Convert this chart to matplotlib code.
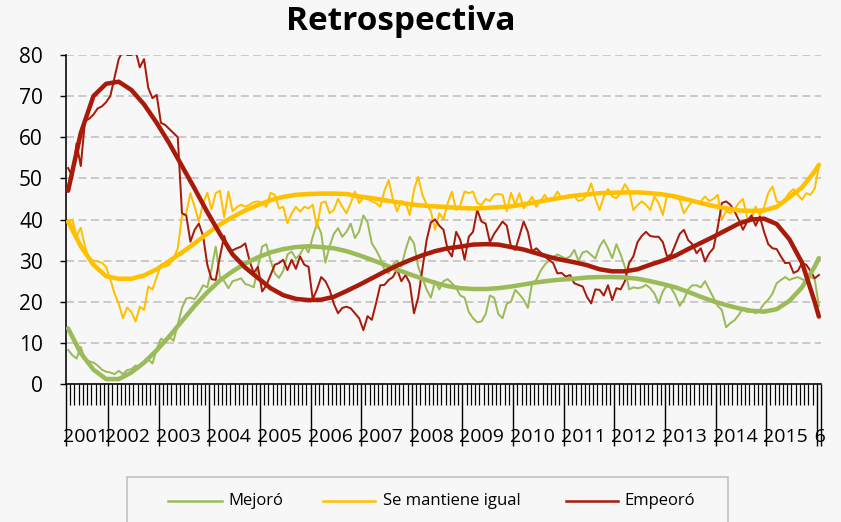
"""Retrospectiva: monthly survey series with smoothed trend lines."""

import numpy as np
import matplotlib
matplotlib.use('Agg')
import matplotlib.pyplot as plt
from matplotlib.patches import Rectangle
from matplotlib.lines import Line2D
from matplotlib.transforms import Bbox, offset_copy

plt.rcParams['font.family'] = ['Open Sans', 'DejaVu Sans']

W, H, DPI = 841, 522, 100

# ── Data: monthly, March 2001 .. January 2016 ─────────────────────────────────
YEARS = [str(y) for y in range(2001, 2017)]
MONTHS_FIRST_YEAR = 10          # Mar-Dec 2001

MEJORO = [
    8.3, 7, 6.2, 9, 6, 5.5, 5.2, 4.5, 3.5, 3,                          # 2001
    2.8, 2.4, 3.2, 2.4, 3.4, 3.6, 4.5, 4, 5.5, 6, 5, 8.5,              # 2002
    11, 10.5, 11.5, 10.5, 14.5, 18.5, 20.8, 21, 20.6, 22.1, 24, 23.5,  # 2003
    28, 33.4, 26, 25, 23.3, 25, 25.3, 25.7, 24.3, 24, 23.5, 28.5,      # 2004
    33.4, 34, 30, 26.9, 25.8, 27.5, 31.5, 32.2, 30.5, 31.5, 33.5, 32,  # 2005
    35.8, 39, 36.7, 29.5, 33.5, 36.5, 37.9, 35.8, 37, 39, 35.5, 37.1,  # 2006
    41, 39.3, 34.2, 32.6, 30.6, 27.7, 26.9, 29, 30, 28.5, 32.6, 35.8,  # 2007
    34.2, 28.5, 25.7, 23, 21, 25, 23, 25, 25.5, 24.5, 23.3, 21.5,      # 2008
    21, 17.5, 16, 15, 15.2, 17, 21.5, 21, 17, 16, 19.5, 20,            # 2009
    22.9, 21.8, 20.5, 18.5, 24.5, 25.3, 27.5, 29, 30, 30.8, 31.5, 31,  # 2010
    30.5, 31, 32.6, 30, 32, 32.3, 31.4, 30.5, 33.4, 35, 33, 30.6,      # 2011
    34, 31.5, 28.5, 23, 23.5, 23.3, 23.5, 24.1, 23.3, 22, 19.6, 22.5,  # 2012
    24, 23.3, 21.5, 19, 20.5, 23, 24, 24, 23.5, 25, 23, 21,            # 2013
    19, 18, 13.8, 14.8, 15.5, 16.8, 18.5, 17.5, 18, 17.2, 18, 19.5,    # 2014
    20.5, 22, 24.5, 25.3, 26, 25.3, 25.7, 26, 25.5, 25, 26, 25.5,      # 2015
    19,                                                                # 2016
]
IGUAL = [
    39.5, 40, 36, 38, 33.4, 30.5, 30, 29.8, 29.5, 28.5,
    25.5, 22, 19.5, 16, 18.6, 17.5, 15.2, 18.8, 18, 23.7, 23, 26,
    29, 28.5, 29, 30.5, 33, 41, 41.5, 46.4, 43.1, 39.5, 44, 46.5,
    42.5, 46.4, 47, 40.5, 46.8, 42, 43, 43.6, 43.1, 43.6, 44.2, 44.4,
    44, 43.1, 46.5, 46, 42.7, 43.1, 39.1, 41.5, 43.1, 41.9, 43.1, 42.7,
    43.6, 38, 44, 44.4, 41.5, 42.3, 45, 43.1, 41.5, 44, 46.8, 44,
    45.2, 45, 44.4, 44, 43.1, 47, 49.6, 45, 42, 44.5, 44, 41.1,
    47.2, 50.4, 46, 43.6, 42, 37.5, 41.5, 40, 44, 46.8, 42.3, 43.6,
    46.8, 46.4, 46.8, 44, 43.5, 45, 44.5, 46, 46.2, 46, 42, 46.5,
    43.6, 46.4, 42.7, 44, 45.5, 43.1, 44.5, 46, 44.4, 45, 46.8, 45.2,
    45.6, 46, 45.6, 44.5, 44.8, 46, 48.8, 45, 42.3, 45.6, 47.4, 45.6,
    45.2, 46.4, 48.6, 47, 42.3, 43.5, 44.4, 43.6, 42.3, 45.6, 44, 41.1,
    46, 45.6, 45.2, 44.8, 41.5, 43.1, 44.4, 44, 44.4, 45.6, 44.5, 45,
    46, 40, 42, 41.5, 42.5, 44, 45, 40.5, 40, 43.1, 41, 43,
    46.5, 48, 44.4, 44, 45, 46.5, 47.4, 46, 44.8, 46.4, 46, 47.5,
    53,
]
EMPEORO = [
    52.5, 50.5, 58.5, 53, 64, 64.5, 65.5, 67, 67.5, 68.5,
    70, 74.5, 79, 81, 80, 80, 81, 77, 79, 72, 69.5, 70.3,
    63.5, 63, 62, 61, 60, 41.5, 41, 34.6, 37.5, 39, 36, 29,
    25.5, 25.3, 31, 36, 32.5, 32.5, 33, 33.4, 34.2, 30, 27, 28.5,
    22.5, 24, 26.5, 29, 29.4, 30.2, 27.7, 30.2, 28, 31, 29, 28.5,
    20.6, 23, 26, 25, 22.9, 19.5, 17.2, 18.5, 18.8, 18.4, 17.2, 16,
    13.1, 16.5, 15.6, 19.6, 24, 24.1, 25.3, 26, 27.9, 25, 26.5, 24.5,
    17.2, 21, 28, 35, 39.3, 40, 38.5, 37.5, 32.6, 31, 37, 35,
    30.2, 35.8, 37, 42.3, 39.5, 39, 34.5, 36.5, 38, 39.5, 38.5, 33.4,
    32.6, 36, 39.5, 37, 32.2, 33, 32, 31, 30.2, 29.4, 26.9, 27,
    26.1, 26.5, 24.5, 24.1, 23.7, 21.2, 19.6, 23, 22.9, 21.5, 24, 20.4,
    23.3, 23, 25, 29.4, 31, 34.5, 36, 37, 36, 35.8, 35.8, 34.5,
    31, 31.5, 34, 36.5, 37.5, 35, 34, 31.8, 33, 29.8, 31.8, 33,
    38, 44, 44.4, 43.6, 42, 39.9, 37.5, 39.5, 41, 38.5, 40.7, 37,
    34, 33, 32.8, 31, 29.4, 29.5, 27, 27.5, 29.4, 29, 27.5, 25.7,
    26.5,
]

# Smoothed trends, read every third month (plus the last month)
TREND_STEP = 3
MEJORO_TREND = [
    13.5, 7.5, 3.5, 1.2, 1.2, 2.8, 5.2, 8.2, 11.6, 15.3,
    19, 22.3, 25.2, 27.4, 29.3, 30.8, 32, 32.8, 33.3, 33.5,
    33.3, 33, 32.3, 31.3, 30.2, 29, 27.8, 26.7, 25.6, 24.6,
    23.8, 23.3, 23.1, 23.1, 23.3, 23.7, 24.2, 24.7, 25.1, 25.4,
    25.6, 25.9, 26, 26, 25.9, 25.6, 25, 24.3, 23.5, 22.4,
    21.2, 20.1, 19.2, 18.4, 17.8, 17.6, 18.2, 20.2, 23.5, 28.5,
    30.6,
]
IGUAL_TREND = [
    39.5, 33.5, 29, 26.2, 25.6, 25.6, 26.4, 27.9, 29.9, 32,
    34.2, 36.6, 38.8, 40.6, 42.2, 43.5, 44.7, 45.5, 46, 46.2,
    46.3, 46.3, 46.2, 45.6, 45.2, 44.7, 44.2, 43.7, 43.4, 43.2,
    43, 42.8, 42.7, 42.8, 43, 43.2, 43.7, 44.2, 44.8, 45.3,
    45.8, 46.1, 46.4, 46.5, 46.6, 46.6, 46.4, 46.1, 45.6, 44.8,
    44, 43.3, 42.7, 42.2, 42.1, 42.2, 43.1, 45.4, 47.8, 51.7,
    53.3,
]
EMPEORO_TREND = [
    47, 61, 70, 73, 73.5, 71.5, 68, 63.5, 58.5, 53,
    47.5, 41.8, 36.5, 31.5, 28.3, 25.8, 23.3, 21.6, 20.7, 20.4,
    20.5, 21.2, 22.6, 24.1, 25.7, 27.3, 28.8, 30.1, 31.3, 32.3,
    33, 33.4, 33.9, 34, 33.9, 33.3, 32.7, 31.8, 30.9, 30.2,
    29.6, 28.9, 27.9, 27.4, 27.4, 27.9, 29, 30, 31.2, 32.8,
    34.3, 35.8, 37.4, 39, 40, 40.2, 38.9, 35.2, 29.5, 20,
    16.4,
]

LABELS = ['Mejoró', 'Se mantiene igual', 'Empeoró']
COLORS = ['#9BBB59', '#FFC000', '#A81B0B']
BG = '#F7F7F7'
GRID = '#BFBFBF'


def px(v):
    """pixels -> points"""
    return v * 72 / DPI


def main():
    fig = plt.figure(figsize=(W / DPI, H / DPI), dpi=DPI, facecolor=BG)
    ax = fig.add_axes([66 / W, 1 - 384 / H, (821 - 66) / W, (384 - 55) / H],
                      facecolor=BG)

    n = len(MEJORO)
    t = np.arange(n)
    tt = np.r_[np.arange(0, n - 1, TREND_STEP), n - 1]

    for vals, c in zip([MEJORO, IGUAL, EMPEORO], COLORS):
        ax.plot(t, vals, color=c, lw=px(2), solid_joinstyle='round', zorder=3)
    for vals, c in zip([MEJORO_TREND, IGUAL_TREND, EMPEORO_TREND], COLORS):
        ax.plot(tt, vals, color=c, lw=px(4.5), solid_capstyle='round',
                solid_joinstyle='round', zorder=4)

    # axes
    ax.set_xlim(-0.5, n - 0.5)
    ax.set_ylim(0, 80)
    ax.set_yticks(range(0, 90, 10))
    ax.yaxis.grid(True, color=GRID, linestyle=(0, (5, 2.8)), lw=px(1.6))
    ax.set_axisbelow(True)
    for s in ['top', 'right']:
        ax.spines[s].set_visible(False)
    for s in ['left', 'bottom']:
        ax.spines[s].set_linewidth(px(1.6))
        ax.spines[s].set_color('black')
    ax.tick_params(axis='y', direction='out', length=px(6), width=px(1.4),
                   labelsize=15, pad=px(17))

    bounds = [-0.5] + [MONTHS_FIRST_YEAR - 0.5 + 12 * k for k in range(15)]
    ax.set_xticks(bounds + [n - 0.5])
    ax.set_xticks(np.arange(-0.5, n, 1), minor=True)
    ax.tick_params(axis='x', which='major', direction='out', length=px(62),
                   width=px(1.4), labelbottom=False)
    ax.tick_params(axis='x', which='minor', direction='out', length=px(21),
                   width=px(1.2))

    # year labels, left-aligned next to each year boundary
    trans = offset_copy(ax.get_xaxis_transform(), fig=fig, x=-3, y=0, units='dots')
    for b, yr in zip(bounds, YEARS[:-1]):
        ax.text(b, -0.161, yr, transform=trans, ha='left', va='center',
                fontsize=14, clip_on=False)
    last = ax.text(n - 0.5, -0.161, YEARS[-1], ha='right', va='center',
                   fontsize=14, transform=offset_copy(ax.get_xaxis_transform(),
                                                      fig=fig, x=5, y=0, units='dots'))
    last.set_clip_box(Bbox.from_extents(813, 0, W, H))
    last.set_clip_on(True)

    fig.text(401 / W, 1 - 22 / H, 'Retrospectiva', ha='center', va='center',
             fontsize=24, fontweight='bold')

    # legend box (cut by the bottom of the image)
    fig.add_artist(Rectangle((127 / W, -0.1), (728 - 127) / W, 0.1 + (522 - 477) / H,
                             transform=fig.transFigure, facecolor=BG,
                             edgecolor=GRID, lw=px(1.6)))
    ly = 1 - 501 / H
    for (x0, x1, xt), lab, c in zip([(168, 222, 228), (323, 375, 383), (566, 618, 624)],
                                    LABELS, COLORS):
        fig.add_artist(Line2D([x0 / W, x1 / W], [ly, ly], transform=fig.transFigure,
                              color=c, lw=px(2.5)))
        fig.text(xt / W, ly, lab, ha='left', va='center', fontsize=12)

    fig.savefig('out.png', dpi=DPI, facecolor=BG)


if __name__ == "__main__":
    main()
